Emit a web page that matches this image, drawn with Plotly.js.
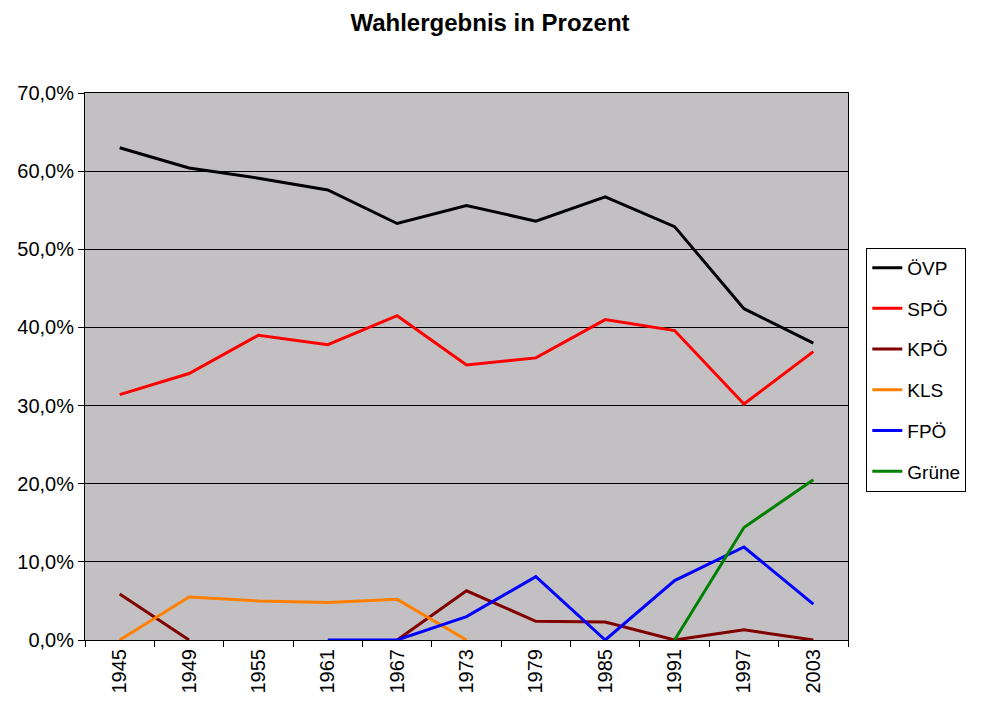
<!DOCTYPE html>
<html>
<head>
<meta charset="utf-8">
<script src="https://cdn.plot.ly/plotly-3.0.1.min.js"></script>
<style>body{margin:0;background:#fff}#chart{width:1000px;height:713px}</style>
</head>
<body>
<div id="chart"></div>
<script>
const years = ["1945", "1949", "1955", "1961", "1967", "1973", "1979", "1985", "1991", "1997", "2003"];
const oevp = [63.0, 60.4, 59.1, 57.6, 53.3, 55.6, 53.6, 56.7, 52.9, 42.4, 38.0];
const spoe = [31.4, 34.1, 39.0, 37.8, 41.5, 35.2, 36.1, 41.0, 39.6, 30.2, 36.9];
const kpoe = [5.9, 0, null, null, 0, 6.3, 2.4, 2.3, 0, 1.3, 0];
const kls = [0, 5.5, 5.0, 4.8, 5.2, 0, null, null, null, null, null];
const fpoe = [null, null, null, 0, 0, 3.0, 8.1, 0, 7.6, 11.9, 4.6];
const gruene = [null, null, null, null, null, null, null, null, 0, 14.4, 20.5];

const series = [
    ["ÖVP", oevp, "#000000"],
    ["SPÖ", spoe, "#ff0000"],
    ["KPÖ", kpoe, "#800000"],
    ["KLS", kls, "#ff8000"],
    ["FPÖ", fpoe, "#0000ff"],
    ["Grüne", gruene, "#008000"],
];

// own legendgroup per trace so tracegroupgap spreads the legend rows
const traces = series.map(([name, y, color]) => ({
    x: years, y, name, legendgroup: name, mode: "lines", type: "scatter",
    line: { color, width: 3 }, connectgaps: false,
}));

const layout = {
    width: 1000, height: 713,
    margin: { l: 85, r: 152, t: 93, b: 73 },
    paper_bgcolor: "#ffffff",
    plot_bgcolor: "#c3c0c3",
    font: { family: "Liberation Sans, Arial, sans-serif", size: 19, color: "#000" },
    title: { text: "<b>Wahlergebnis in Prozent</b>", x: 0.49, y: 0.98, font: { size: 24 } },
    xaxis: {
        type: "category", tickangle: -90, showgrid: false, tickson: "boundaries",
        ticks: "outside", ticklen: 6, tickcolor: "#000", tickfont: { size: 20 },
        showline: true, linecolor: "#000", mirror: true, range: [-0.5, 10.5],
    },
    yaxis: {
        range: [0, 70], dtick: 10, tickformat: ".1f", ticksuffix: "%",
        showgrid: true, gridcolor: "#000", gridwidth: 1, tickfont: { size: 20 },
        ticks: "outside", ticklen: 6, tickcolor: "#000",
        showline: true, linecolor: "#000", mirror: true, zeroline: false,
    },
    separators: ",.",
    legend: {
        x: 1.024, y: 0.717, xanchor: "left", yanchor: "top",
        bordercolor: "#000", borderwidth: 1, bgcolor: "#fff",
        font: { size: 19 }, tracegroupgap: 13,
    },
};

Plotly.newPlot("chart", traces, layout, { displayModeBar: false });
</script>
</body>
</html>
